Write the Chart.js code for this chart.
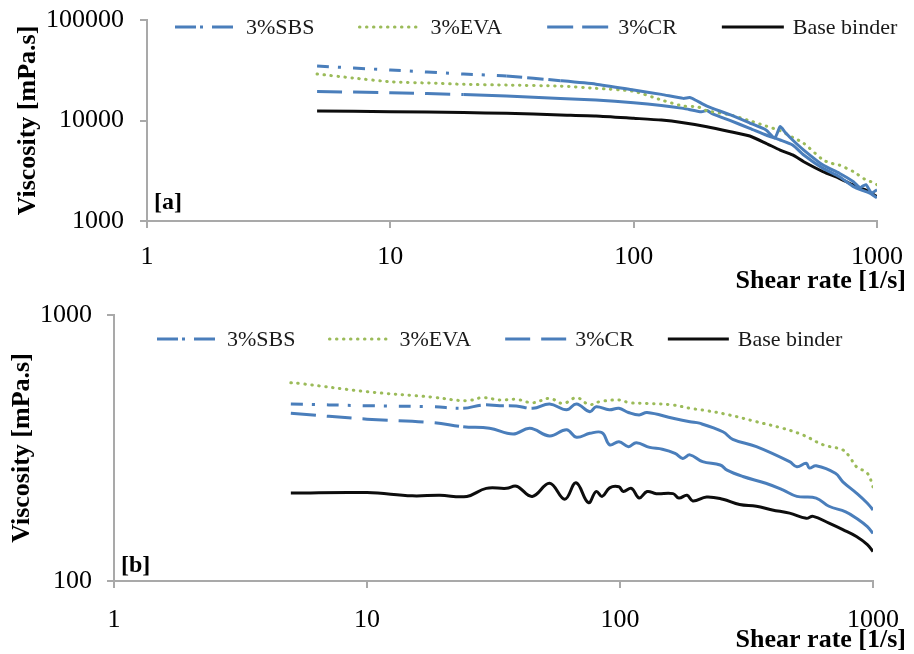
<!DOCTYPE html>
<html><head><meta charset="utf-8">
<script src="https://cdn.jsdelivr.net/npm/chart.js@4/dist/chart.umd.min.js"></script>
<style>
html,body{margin:0;padding:0;background:#fff;}
#wrap{position:relative;width:914px;height:654px;background:#fff;overflow:hidden;}
canvas{position:absolute;left:0;}
#ca{top:0;} #cb{top:296px;}
</style></head><body>
<div id="wrap"><canvas id="ca" width="914" height="298"></canvas><canvas id="cb" width="914" height="358"></canvas></div>
<script>
// ---------- tick labels ----------
const xTicks = [1, 10, 100, 1000];
const yTicksA = [1000, 10000, 100000];
const yTicksB = [100, 1000];
const seriesNames = ['3%SBS', '3%EVA', '3%CR', 'Base binder'];

// ---------- panel [a] ----------
const aSBS_x = [5, 10, 20, 30, 50, 70, 100, 130, 160, 170, 180, 200, 250, 300, 350, 380, 400, 420, 450, 500, 600, 700, 800, 850, 900, 950, 1000];
const aSBS_y = [34800, 31800, 29000, 27700, 24900, 23000, 20100, 18200, 16600, 16900, 15900, 13900, 11350, 9440, 8040, 6700, 8700, 7600, 6400, 5080, 3600, 2990, 2460, 2150, 2300, 1900, 2050];
const aEVA_x = [5, 7, 10, 15, 20, 30, 50, 70, 100, 130, 160, 183, 200, 250, 300, 350, 400, 450, 500, 600, 650, 700, 800, 900, 950, 1000];
const aEVA_y = [29000, 26500, 24300, 23500, 22900, 22500, 22000, 20900, 19500, 16000, 13900, 13700, 12500, 11350, 9950, 8810, 7900, 6810, 5930, 4050, 3750, 3600, 3100, 2560, 2450, 2300];
const aCR_x = [5, 10, 20, 30, 50, 70, 100, 130, 160, 190, 200, 210, 250, 300, 350, 400, 450, 500, 600, 700, 800, 900, 950, 1000];
const aCR_y = [19400, 18900, 18100, 17500, 16600, 16000, 15000, 14100, 13200, 12200, 12600, 11700, 9950, 8360, 7170, 6400, 5700, 4540, 3340, 2760, 2200, 1960, 1850, 1700];
const aBase_x = [5, 10, 20, 30, 50, 70, 100, 130, 160, 200, 250, 300, 350, 400, 450, 500, 600, 700, 800, 900, 1000];
const aBase_y = [12450, 12250, 11980, 11790, 11350, 11090, 10520, 10100, 9500, 8670, 7740, 7010, 5930, 5080, 4540, 3890, 3100, 2660, 2280, 2030, 1750];

// ---------- panel [b] ----------
const bSBS_x = [5, 10, 18.2, 24, 28.7, 33.5, 38.9, 45.3, 52.7, 61.5, 67.3, 76, 80.5, 90.7, 99, 108, 119, 128, 162, 189, 206, 255, 279, 346, 468, 500, 545, 560, 596, 710, 760, 860, 950, 1000];
const bSBS_y = [463, 456, 452, 446, 459, 456, 455, 446, 463, 440, 463, 433, 452, 440, 446, 430, 421, 430, 409, 397, 392, 364, 341, 320, 281, 269, 277, 266, 271, 254, 236, 214, 196, 185];
const bEVA_x = [5, 5.4, 10, 18.2, 24.7, 28.7, 33.5, 38.9, 45.3, 52.7, 59.5, 67.3, 73.6, 76, 83, 99.5, 109, 128, 162, 189, 220, 270, 346, 440, 528, 636, 760, 808, 860, 950, 1000];
const bEVA_y = [556, 553, 515, 491, 476, 489, 479, 482, 468, 486, 465, 489, 465, 459, 472, 479, 468, 465, 459, 446, 437, 421, 397, 375, 354, 325, 311, 293, 269, 254, 226];
const bCR_x = [5, 10, 18.2, 24, 30.5, 37.8, 44, 52.7, 61.5, 67.3, 76, 85, 91, 99, 108, 116, 131, 147, 165, 177, 189, 212, 249, 265, 306, 377, 440, 500, 596, 670, 780, 860, 950, 1000];
const bCR_y = [427, 406, 394, 380, 375, 357, 375, 351, 370, 347, 359, 361, 325, 334, 320, 331, 318, 313, 302, 289, 298, 281, 273, 261, 247, 233, 220, 208, 205, 191, 182, 172, 160, 151];
const bBase_x = [5, 10, 15.1, 19.4, 24.8, 29.6, 35.6, 39, 45, 52.7, 60.5, 67, 75, 80.5, 85, 91, 99, 103, 111, 119, 128, 139, 162, 171, 184, 194, 220, 255, 297, 346, 400, 468, 545, 580, 670, 760, 860, 950, 1000];
const bBase_y = [214, 215, 209, 210, 208, 223, 223, 227, 208, 233, 203, 234, 197, 217, 208, 224, 226, 217, 223, 205, 217, 213, 213, 205, 210, 200, 207, 203, 194, 191, 185, 180, 172, 175, 165, 156, 147, 137, 129];

// ---------- styles ----------
const BLUE = '#4a7ebb', GREEN = '#9bbb59', BLACK = '#0d0d0d', AXIS = '#a9a9a9';
const FONT = "'Liberation Serif', 'Times New Roman', serif";
Chart.defaults.font.family = FONT;
Chart.defaults.color = '#000';

function dashBy(rules) {
  return ctx => {
    const x = ctx.p0.parsed.x;
    for (const r of rules) if (x < r[0]) return r[1];
    return [];
  };
}

function makeSet(label, xs, ys, st) {
  const ds = {
    label,
    data: xs.map((x, i) => ({x, y: ys[i]})),
    borderColor: st.color,
    borderWidth: 3,
    borderCapStyle: st.cap || 'butt',
    borderJoinStyle: 'round',
    borderDash: st.dash || [],
    legendDash: st.legendDash,
    pointRadius: 0,
    pointHoverRadius: 0,
    tension: st.tension,
    fill: false
  };
  if (st.rules) ds.segment = {borderDash: dashBy(st.rules)};
  return ds;
}

const decoPlugin = {
  id: 'deco',
  afterDraw(chart, args, o) {
    const ctx = chart.ctx, area = chart.chartArea;
    ctx.save();
    ctx.fillStyle = '#000';
    ctx.textBaseline = 'middle';
    // panel label
    ctx.font = 'bold 24px ' + FONT;
    ctx.textAlign = 'left';
    ctx.fillText(o.panel, area.left + 7, area.bottom - o.panelOffset);
    // x axis title
    ctx.font = 'bold 26px ' + FONT;
    ctx.textAlign = 'right';
    ctx.fillText('Shear rate [1/s]', o.xTitleRight, o.xTitleY);
    // legend
    ctx.font = '22px ' + FONT;
    ctx.textAlign = 'left';
    let x = o.legendX;
    const y = o.legendY;
    chart.data.datasets.forEach(ds => {
      ctx.save();
      ctx.strokeStyle = ds.borderColor;
      ctx.lineWidth = ds.borderWidth;
      ctx.lineCap = ds.borderCapStyle;
      ctx.setLineDash(ds.legendDash || []);
      ctx.beginPath();
      ctx.moveTo(x, y);
      ctx.lineTo(x + o.sampleW, y);
      ctx.stroke();
      ctx.restore();
      ctx.fillStyle = '#1a1a1a';
      ctx.fillText(ds.label, x + o.sampleW + 9, y + 1);
      x += o.sampleW + 9 + ctx.measureText(ds.label).width + o.gap;
    });
    ctx.restore();
  }
};

function makeOptions(c) {
  const gridOpt = {drawOnChartArea: false, drawTicks: true, tickLength: 7, color: AXIS, lineWidth: 2};
  const borderOpt = {display: true, color: AXIS, width: 2};
  return {
    responsive: false,
    animation: false,
    devicePixelRatio: 1,
    events: [],
    layout: {padding: {top: c.padTop, right: c.padRight, left: 0, bottom: 0}},
    plugins: {
      legend: {display: false},
      tooltip: {enabled: false},
      deco: c.deco
    },
    scales: {
      x: {
        type: 'logarithmic',
        min: xTicks[0], max: xTicks[xTicks.length - 1],
        afterBuildTicks: s => { s.ticks = xTicks.map(v => ({value: v})); },
        afterFit: s => { s.height = c.xAxisH; s.paddingLeft = 0; s.paddingRight = 0; },
        ticks: {callback: v => String(v), font: {size: 26}, color: '#000', padding: c.xTickPad, maxRotation: 0, autoSkip: false},
        grid: gridOpt,
        border: borderOpt
      },
      y: {
        type: 'logarithmic',
        min: c.yTicks[0], max: c.yTicks[c.yTicks.length - 1],
        afterBuildTicks: s => { s.ticks = c.yTicks.map(v => ({value: v})); },
        afterFit: s => { s.width = c.yAxisW; s.paddingTop = 0; s.paddingBottom = 0; },
        ticks: {callback: v => String(v), font: {size: 26}, color: '#000', padding: c.yTickPad, autoSkip: false},
        grid: gridOpt,
        border: borderOpt,
        title: {display: true, text: 'Viscosity [mPa.s]', font: {size: 26, weight: 'bold'}, color: '#000', padding: {top: c.yTitlePad, bottom: 0}}
      }
    }
  };
}

// panel a
new Chart(document.getElementById('ca'), {
  type: 'line',
  data: {datasets: [
    makeSet(seriesNames[0], aSBS_x, aSBS_y, {color: BLUE, tension: 0.2, legendDash: [21, 4, 3, 9], rules: [[30, [12, 9, 3, 12]], [50, [16, 5]]]}),
    makeSet(seriesNames[1], aEVA_x, aEVA_y, {color: GREEN, tension: 0.2, cap: 'round', dash: [0.5, 6.5], legendDash: [0.5, 6.5]}),
    makeSet(seriesNames[2], aCR_x, aCR_y, {color: BLUE, tension: 0.2, legendDash: [26, 9], rules: [[20, [25, 11]]]}),
    makeSet(seriesNames[3], aBase_x, aBase_y, {color: BLACK, tension: 0.2, legendDash: []})
  ]},
  options: makeOptions({padTop: 20, padRight: 37, xAxisH: 77, yAxisW: 147, xTickPad: 14, yTickPad: 16, yTitlePad: 13, yTicks: yTicksA,
    deco: {panel: '[a]', panelOffset: 18, xTitleRight: 906, xTitleY: 281, legendX: 175, legendY: 27, sampleW: 62, gap: 45}}),
  plugins: [decoPlugin]
});

// panel b
new Chart(document.getElementById('cb'), {
  type: 'line',
  data: {datasets: [
    makeSet(seriesNames[0], bSBS_x, bSBS_y, {color: BLUE, tension: 0.4, legendDash: [21, 4, 3, 9], rules: [[21, [12, 9, 3, 12]], [45, [18, 5]]]}),
    makeSet(seriesNames[1], bEVA_x, bEVA_y, {color: GREEN, tension: 0.4, cap: 'round', dash: [0.5, 6.5], legendDash: [0.5, 6.5]}),
    makeSet(seriesNames[2], bCR_x, bCR_y, {color: BLUE, tension: 0.4, legendDash: [25, 11], rules: [[20, [25, 11]]]}),
    makeSet(seriesNames[3], bBase_x, bBase_y, {color: BLACK, tension: 0.4, legendDash: []})
  ]},
  options: makeOptions({padTop: 19, padRight: 41, xAxisH: 73, yAxisW: 114, xTickPad: 17, yTickPad: 15, yTitlePad: 7, yTicks: yTicksB,
    deco: {panel: '[b]', panelOffset: 15, xTitleRight: 906, xTitleY: 344, legendX: 157, legendY: 43, sampleW: 61, gap: 34}}),
  plugins: [decoPlugin]
});
</script>
</body></html>
